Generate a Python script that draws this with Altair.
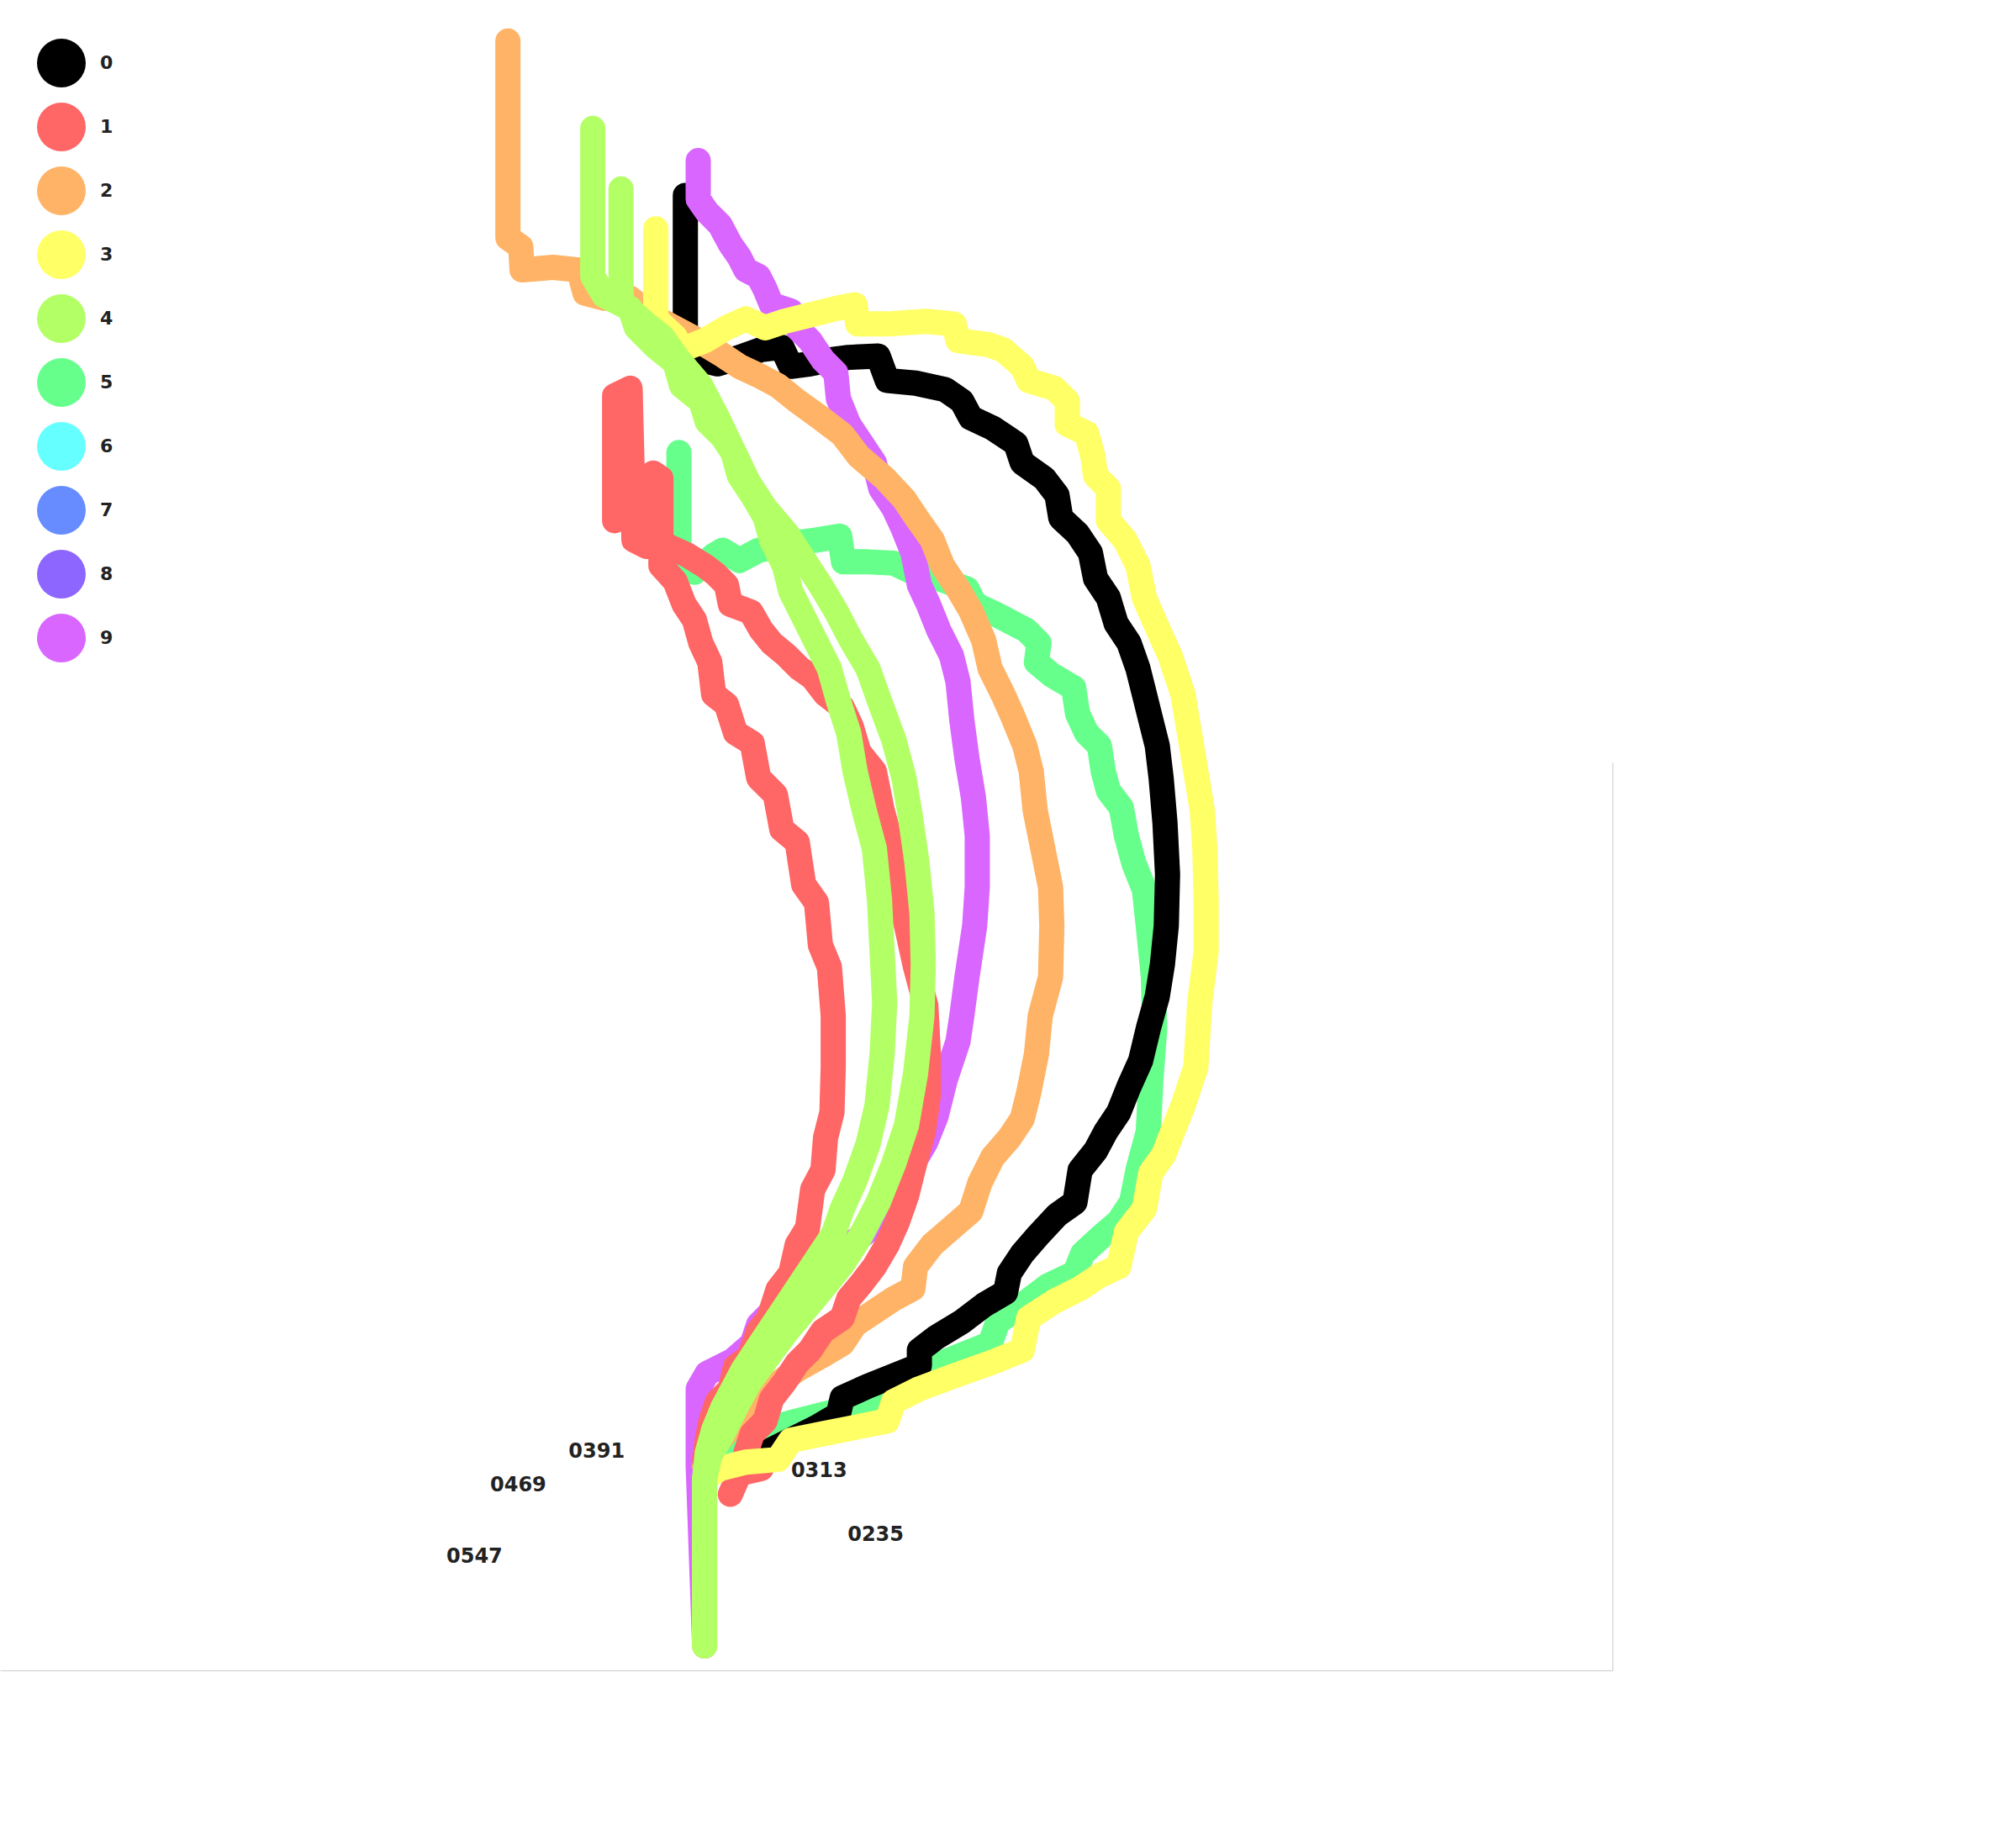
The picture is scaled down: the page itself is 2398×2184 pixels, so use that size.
import altair as alt
import pandas as pd

DIGITS = [str(i) for i in range(10)]
COLORS = ["#000000", "#ff6666", "#ffb366", "#ffff66", "#b3ff66",
          "#66ff8c", "#66ffff", "#668cff", "#8c66ff", "#d966ff"]

STROKE_0 = [(533,152),(533,265),(545,280),(558,283),(575,278),(592,272),(608,270),(615,285),(630,283),(645,280),(660,278),(683,277),(690,296),(712,298),(735,303),(748,312),(755,325),(772,333),(790,345),(795,360),(812,372),(822,385),(825,403),(838,415),(848,430),(852,450),(862,465),(868,485),(878,500),(885,520),(890,540),(895,560),(900,580),(903,605),(906,640),(908,680),(907,720),(904,750),(900,775),(893,800),(887,825),(878,845),(870,865),(860,880),(852,895),(840,910),(836,935),(822,945),(808,960),(795,975),(785,990),(782,1005),(765,1015),(748,1028),(728,1040),(715,1050),(715,1062),(695,1070),(675,1078),(655,1087),(652,1100),(635,1110),(615,1120),(595,1130)]

STROKE_1A = [(478,405),(478,308),(490,302),(493,420),(503,425),(508,368),(514,372),(514,440),(525,452),(532,470),(540,482),(545,500),(552,515),(555,540),(565,548),(572,570),(585,578),(590,605),(603,618),(608,645),(620,655),(625,688),(635,702),(638,735),(645,752),(648,790),(648,830),(647,865),(642,885),(640,910),(632,925),(628,955),(620,968),(615,990),(605,1003),(598,1025),(590,1035),(583,1055),(572,1063),(568,1080),(558,1090),(553,1105),(550,1120),(548,1135)]

STROKE_1B = [(520,425),(535,432),(548,440),(556,446),(565,455),(568,470),(584,476),(592,490),(600,500),(612,510),(622,520),(632,527),(642,540),(655,550),(662,565),(668,585),(680,600),(686,630),(692,652),(698,690),(705,720),(712,752),(720,782),(722,820),(722,852),(718,880),(712,902),(705,930),(698,950),(690,968),(680,985),(670,998),(660,1010),(655,1025),(640,1035),(630,1050),(620,1060),(610,1075),(600,1088),(595,1105),(585,1115),(580,1130),(592,1142),(575,1146),(568,1162)]

STROKE_2 = [(395,32),(395,185),(405,192),(406,210),(430,208),(450,210),(455,228),(470,232),(490,232),(502,242),(515,250),(530,258),(545,266),(560,275),(575,285),(590,292),(605,300),(620,312),(638,325),(655,338),(668,355),(688,372),(703,388),(713,403),(725,420),(733,440),(745,458),(755,475),(765,498),(770,520),(780,540),(788,558),(797,580),(802,600),(805,630),(811,660),(817,690),(818,720),(817,760),(809,790),(806,820),(800,850),(795,870),(785,885),(772,900),(762,920),(755,942),(740,955),(725,968),(712,985),(710,1002),(695,1010),(680,1020),(665,1030),(655,1045),(638,1055),(620,1065),(602,1078),(585,1092),(570,1108),(555,1125),(548,1140)]

STROKE_3 = [(510,178),(510,248),(525,262),(530,272),(548,265),(565,255),(580,248),(595,255),(610,250),(630,245),(650,240),(665,237),(667,252),(690,252),(720,250),(742,252),(745,265),(768,268),(780,272),(795,285),(800,296),(820,302),(830,312),(830,330),(845,337),(850,355),(852,370),(862,380),(862,405),(875,420),(885,440),(890,465),(900,488),(910,510),(920,540),(925,570),(930,600),(935,630),(937,660),(938,700),(938,740),(933,780),(930,830),(920,860),(912,880),(905,898),(895,912),(890,940),(876,958),(870,985),(855,992),(840,1002),(820,1012),(800,1025),(795,1050),(770,1060),(742,1070),(715,1080),(695,1090),(690,1105),(665,1110),(640,1115),(615,1120),(605,1135),(580,1137),(560,1142),(548,1150),(548,1280)]

STROKE_4A = [(461,100),(461,215),(470,230),(490,240),(495,255),(510,270),(525,282),(530,300),(545,312),(550,328),(562,340),(570,352),(575,370),(585,385),(595,402),(600,420),(610,440),(615,460),(625,480),(635,500),(645,520),(652,545),(660,570),(665,600),(672,630),(680,660),(684,700),(686,740),(688,780),(686,820),(682,860),(675,890),(665,918),(655,940),(648,960),(638,975),(628,990),(618,1005),(608,1020),(598,1035),(588,1050),(578,1065),(570,1080),(562,1095),(555,1112),(550,1130),(548,1150),(548,1280)]

STROKE_4B = [(483,147),(483,235),(500,250),(515,262),(528,280),(545,300),(558,325),(570,350),(582,375),(595,395),(612,415),(625,435),(638,455),(650,475),(662,498),(675,520),(685,548),(695,575),(703,605),(708,635),(713,670),(717,710),(718,750),(717,790),(712,835),(705,875),(695,905),(683,935),(670,960),(656,982),(640,1002),(625,1020),(610,1038),(596,1057),(583,1075),(572,1095),(562,1115),(552,1132),(548,1150)]

STROKE_5 = [(528,352),(528,440),(540,445),(555,432),(562,428),(575,436),(590,428),(605,425),(620,422),(635,420),(653,417),(656,437),(675,437),(695,438),(710,445),(730,450),(752,458),(758,470),(775,478),(798,490),(808,500),(806,515),(818,525),(835,535),(838,555),(845,570),(855,580),(858,600),(862,615),(872,628),(876,650),(882,672),(890,692),(893,720),(897,760),(898,800),(895,840),(893,880),(885,910),(880,935),(870,950),(856,962),(842,975),(836,990),(815,1000),(795,1015),(776,1028),(770,1045),(745,1055),(720,1065),(700,1075),(685,1085),(660,1095),(640,1100),(620,1105),(595,1112),(570,1125),(555,1135)]

STROKE_9 = [(543,125),(543,155),(550,165),(560,175),(568,190),(575,200),(580,210),(590,215),(595,225),(600,237),(615,242),(620,255),(630,265),(640,280),(650,290),(652,310),(660,330),(670,345),(680,360),(685,380),(695,395),(702,410),(710,430),(715,455),(722,470),(730,490),(740,510),(745,530),(748,560),(752,590),(757,620),(760,650),(760,690),(758,720),(752,760),(748,790),(745,810),(735,840),(728,868),(720,888),(710,905),(700,920),(690,940),(680,953),(665,965),(650,975),(635,990),(620,1005),(602,1018),(590,1030),(585,1045),(570,1058),(550,1068),(543,1080),(543,1140),(548,1280)]

# drawing order, bottom to top
STROKES = [("5", "s5", STROKE_5), ("0", "s0", STROKE_0), ("9", "s9", STROKE_9),
           ("2", "s2", STROKE_2), ("1", "s1a", STROKE_1A), ("1", "s1b", STROKE_1B),
           ("3", "s3", STROKE_3), ("4", "s4a", STROKE_4A), ("4", "s4b", STROKE_4B)]

LABEL_TEXT = ["0235", "0313", "0391", "0469", "0547"]
LABEL_X = [681, 637, 464, 403, 369]
LABEL_Y = [1194, 1144, 1129, 1155, 1211]

rows = []
for digit, sid, pts in STROKES:
    for i, (x, y) in enumerate(pts):
        rows.append({"digit": digit, "sid": sid, "i": i, "x": x, "y": y})
df = pd.DataFrame(rows)
labels = pd.DataFrame({"t": LABEL_TEXT, "x": LABEL_X, "y": LABEL_Y})

LINE_W = 30

x_enc = alt.X("x:Q", title=None,
              scale=alt.Scale(domain=[0, 1254], nice=False, zero=False),
              axis=alt.Axis(domain=True, domainColor="#cccccc", domainWidth=1,
                            ticks=False, labels=False, grid=False))
y_enc = alt.Y("y:Q", title=None,
              scale=alt.Scale(domain=[593, 1299], reverse=True, nice=False, zero=False),
              axis=alt.Axis(orient="right", domain=True, domainColor="#cccccc",
                            domainWidth=1, ticks=False, labels=False, grid=False))
color_enc = alt.Color("digit:N",
                      scale=alt.Scale(domain=DIGITS, range=COLORS),
                      legend=alt.Legend(title=None, orient="none", legendX=44, legendY=-861,
                                        symbolType="circle", symbolSize=3364,
                                        symbolStrokeWidth=0, symbolOpacity=1,
                                        labelFont="DejaVu Sans", labelFontWeight="bold",
                                        labelFontSize=22, labelColor="#222222",
                                        labelOffset=17, rowPadding=18, padding=0))

# invisible filled-circle layer so the legend shows filled dots
legend_layer = alt.Chart(df).mark_circle(size=0, opacity=1).encode(
    x=x_enc, y=y_enc, color=color_enc)

layers = [legend_layer]
for digit, sid, pts in STROKES:
    layers.append(
        alt.Chart(df).transform_filter(alt.datum.sid == sid)
        .mark_line(strokeWidth=LINE_W, strokeCap="round", strokeJoin="round")
        .encode(x=x_enc, y=y_enc, color=color_enc, order=alt.Order("i:Q"))
    )

text_layer = alt.Chart(labels).mark_text(
    font="DejaVu Sans", fontWeight="bold", fontSize=24, color="#222222",
    align="center", baseline="middle"
).encode(x=alt.X("x:Q"), y=alt.Y("y:Q"), text="t:N")

chart = alt.layer(*layers, text_layer).properties(
    width=1918, height=1080,
    autosize=alt.AutoSizeParams(type="none"),
    padding={"left": 0, "top": 907, "right": 10, "bottom": 10},
    background="white"
).configure_view(strokeWidth=0)

chart.save("out.html", embed_options={"renderer": "svg", "actions": False})
